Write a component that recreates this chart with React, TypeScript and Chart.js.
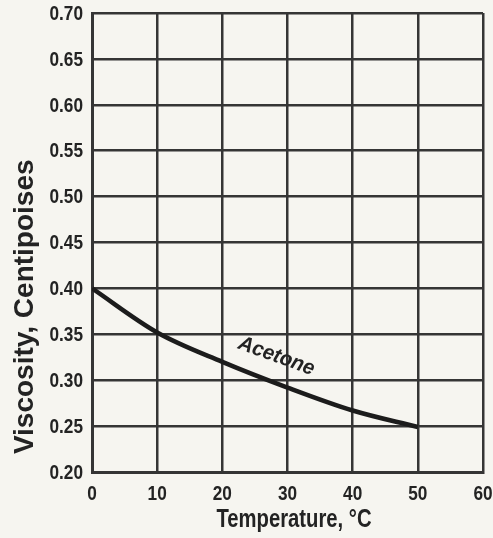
import React, { useEffect, useRef } from "react";
import { Chart, registerables } from "chart.js";

Chart.register(...registerables);

const temperatures = [0, 10, 20, 30, 40, 50];
const viscosities = [0.4, 0.352, 0.32, 0.292, 0.267, 0.249];
const xTicks = [0, 10, 20, 30, 40, 50, 60];
const yTicks = [0.2, 0.25, 0.3, 0.35, 0.4, 0.45, 0.5, 0.55, 0.6, 0.65, 0.7];
const seriesLabel = "Acetone";
const xTitle = "Temperature, °C";
const yTitle = "Viscosity, Centipoises";

const FONT = "'Liberation Sans', Arial, sans-serif";
const INK = "#232323";
const GRID = "#353535";

function squeezedText(
  ctx: CanvasRenderingContext2D,
  text: string,
  x: number,
  y: number,
  sx: number,
  align: CanvasTextAlign,
  baseline: CanvasTextBaseline,
  rot = 0
) {
  ctx.save();
  ctx.translate(x, y);
  ctx.rotate(rot);
  ctx.scale(sx, 1);
  ctx.textAlign = align;
  ctx.textBaseline = baseline;
  ctx.fillText(text, 0, 0);
  ctx.restore();
}

const decorPlugin = {
  id: "decor",
  beforeDraw(chart: any) {
    const ctx = chart.ctx;
    ctx.save();
    ctx.fillStyle = "#f6f5f0";
    ctx.fillRect(0, 0, chart.width, chart.height);
    ctx.restore();
  },
  afterDraw(chart: any) {
    const ctx: CanvasRenderingContext2D = chart.ctx;
    const xs = chart.scales.x;
    const ys = chart.scales.y;
    const area = chart.chartArea;
    ctx.save();
    ctx.fillStyle = INK;
    // tick labels
    ctx.font = `bold 21px ${FONT}`;
    xTicks.forEach((t) => {
      squeezedText(ctx, String(t), xs.getPixelForValue(t), area.bottom + 28, 0.82, "center", "alphabetic");
    });
    yTicks.forEach((t) => {
      squeezedText(ctx, t.toFixed(2), area.left - 9, ys.getPixelForValue(t) + 1, 0.82, "right", "middle");
    });
    // axis titles
    ctx.font = `bold 25px ${FONT}`;
    squeezedText(ctx, xTitle, xs.getPixelForValue(31), area.bottom + 55, 0.81, "center", "alphabetic");
    ctx.font = `bold 28px ${FONT}`;
    squeezedText(ctx, yTitle, area.left - 59, ys.getPixelForValue(0.38), 1.0, "center", "alphabetic", -Math.PI / 2);
    // series label
    ctx.font = `italic bold 21px ${FONT}`;
    squeezedText(
      ctx,
      seriesLabel,
      xs.getPixelForValue(28.3),
      ys.getPixelForValue(0.326),
      0.96,
      "center",
      "middle",
      (20 * Math.PI) / 180
    );
    ctx.restore();
  },
};

export default function App() {
  const ref = useRef<HTMLCanvasElement>(null);
  useEffect(() => {
    if (!ref.current) return;
    const chart = new Chart(ref.current, {
      type: "line",
      data: {
        datasets: [
          {
            label: seriesLabel,
            data: temperatures.map((t, i) => ({ x: t, y: viscosities[i] })),
            borderColor: "#1c1c1c",
            borderWidth: 4.5,
            pointRadius: 0,
            cubicInterpolationMode: "monotone",
            fill: false,
          },
        ],
      },
      options: {
        responsive: false,
        animation: false,
        layout: { padding: { top: 13, right: 10, left: 0, bottom: 0 } },
        plugins: { legend: { display: false }, tooltip: { enabled: false } },
        scales: {
          x: {
            type: "linear",
            min: 0,
            max: 60,
            afterFit: (s: any) => {
              s.height = 66;
            },
            afterBuildTicks: (s: any) => {
              s.ticks = xTicks.map((v) => ({ value: v }));
            },
            ticks: { display: false },
            grid: { color: GRID, lineWidth: 2.5, drawTicks: false },
            border: { color: GRID, width: 3 },
          },
          y: {
            min: 0.2,
            max: 0.7,
            afterFit: (s: any) => {
              s.width = 92;
            },
            afterBuildTicks: (s: any) => {
              s.ticks = yTicks.map((v) => ({ value: v }));
            },
            ticks: { display: false },
            grid: { color: GRID, lineWidth: 2.5, drawTicks: false },
            border: { color: GRID, width: 3 },
          },
        },
      },
      plugins: [decorPlugin],
    } as any);
    return () => chart.destroy();
  }, []);
  return (
    <div style={{ position: "fixed", left: 0, top: 0, width: 493, height: 538 }}>
      <canvas ref={ref} width={493} height={538} />
    </div>
  );
}
